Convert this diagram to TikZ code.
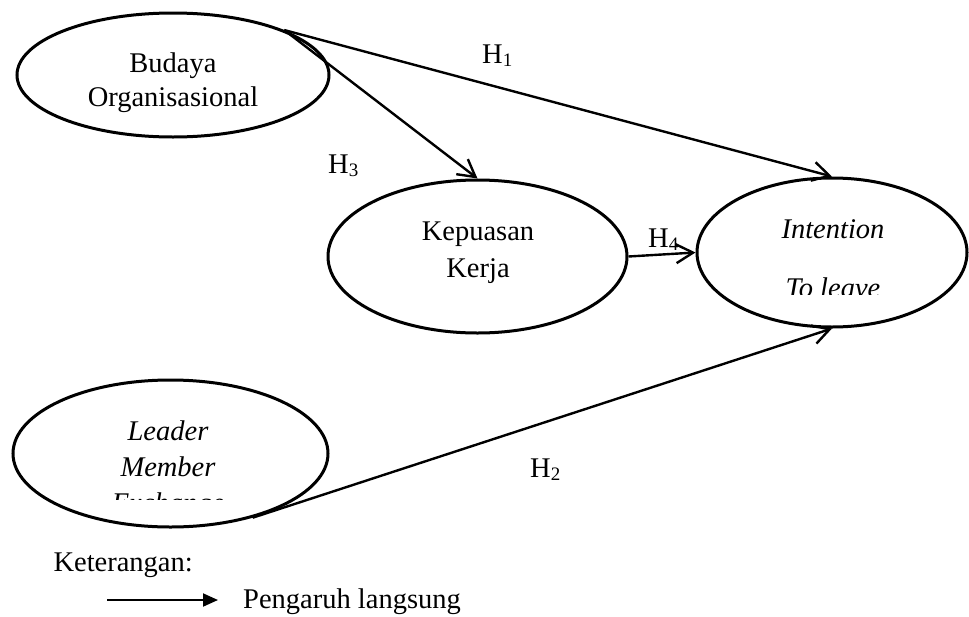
\documentclass[tikz,border=0pt]{standalone}
\usepackage{fontspec}
\setmainfont{Liberation Serif}
\usetikzlibrary{shapes.geometric, arrows.meta}
% subscript digit for the hypothesis labels
\newcommand\hsub[1]{\raisebox{-3pt}{\fontsize{19}{19}\selectfont #1}}
\begin{document}
\begin{tikzpicture}[x=1pt, y=-1pt,
  oval/.style={draw, ellipse, line width=3pt, inner sep=0pt},
  lbl/.style={anchor=base, inner sep=0pt, font=\fontsize{28.5}{34}\selectfont},
  ilbl/.style={anchor=base, inner sep=0pt, font=\fontsize{28.5}{34}\selectfont\itshape},
  hyp/.style={anchor=base west, inner sep=0pt, font=\fontsize{28.5}{34}\selectfont},
  link/.style={line width=2.4pt, -{Straight Barb[length=17pt, width=19pt, line width=2.4pt]}},
]
\useasboundingbox (0,0) rectangle (969,616);

% latent variables
\node[oval, minimum width=312pt, minimum height=124pt] (bo) at (173,75) {};
\node[oval, minimum width=299pt, minimum height=153pt] (kk) at (477.5,256.5) {};
\node[oval, minimum width=270pt, minimum height=149pt] (itl) at (832,252.5) {};
\node[oval, minimum width=315pt, minimum height=147pt] (lmx) at (170.5,453.5) {};

% labels inside the ellipses
\node[lbl] (bo1) at (173,72) {Budaya};
\node[lbl] (bo2) at (173,106) {Organisasional};
\node[lbl] (kk1) at (478,240) {Kepuasan};
\node[lbl] (kk2) at (478,277) {Kerja};
\node[ilbl] (itl1) at (833,238) {Intention};
\begin{scope}
  \clip (700,260) rectangle (969,294);
  \node[ilbl] (itl2) at (833,297) {To leave};
\end{scope}
\node[ilbl] (lmx1) at (168,440) {Leader};
\node[ilbl] (lmx2) at (168,476) {Member};
\begin{scope}
  \clip (20,480) rectangle (320,499);
  \node[ilbl] (lmx3) at (168,512) {Exchange};
\end{scope}

% hypothesised paths
\draw[link] (bo.22) -- (itl.north);
\draw[link] (bo.22) -- (kk.north);
\draw[link] (kk.east) -- (itl.west);
\draw[link] (lmx.-38) -- (itl.south);

\node[hyp] (h1) at (482,63) {H\hsub{1}};
\node[hyp] (h3) at (328,173) {H\hsub{3}};
\node[hyp] (h4) at (648,247) {H\hsub{4}};
\node[hyp] (h2) at (530,477) {H\hsub{2}};

% legend
\node[lbl, anchor=base east] (ket) at (193,571) {Keterangan:};
\coordinate (lg0) at (107,600);
\coordinate (lg1) at (218,600);
\draw[line width=2pt, -{Triangle[length=15pt, width=13pt]}] (lg0) -- (lg1);
\node[lbl, anchor=base west] (lgt) at (243,608) {Pengaruh langsung};
\end{tikzpicture}
\end{document}
